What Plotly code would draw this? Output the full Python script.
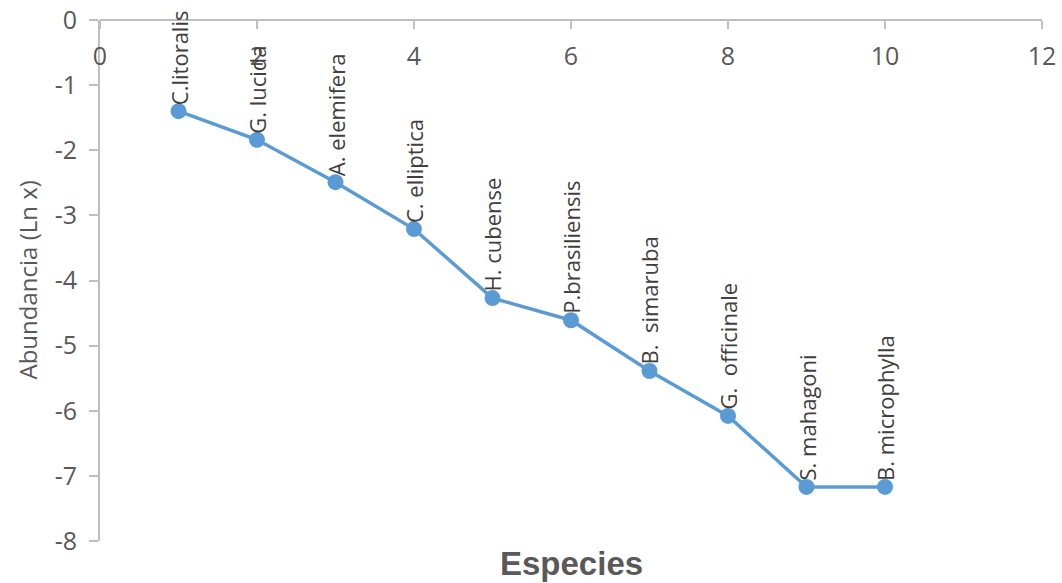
import plotly.graph_objects as go

# Species rank (x) and log abundance (y)
rank = [1, 2, 3, 4, 5, 6, 7, 8, 9, 10]
ln_abundance = [-1.40, -1.84, -2.49, -3.21, -4.27, -4.61, -5.39, -6.08, -7.17, -7.17]
species = ["C.litoralis", "G. lucida", "A. elemifera", "C. elliptica", "H. cubense",
           "P.brasiliensis", "B.  simaruba", "G.  officinale", "S. mahagoni", "B. microphylla"]

x_ticks = [0, 2, 4, 6, 8, 10, 12]
y_ticks = [0, -1, -2, -3, -4, -5, -6, -7, -8]

line_color = "#5B9BD5"
axis_color = "#BFBFBF"
tick_color = "#595959"

fig = go.Figure()
fig.add_trace(go.Scatter(
    x=rank, y=ln_abundance, mode="lines+markers",
    line=dict(color=line_color, width=3.5),
    marker=dict(color=line_color, size=16),
    showlegend=False, hoverinfo="skip",
))

# Vertical species labels above each point
for xv, yv, name in zip(rank, ln_abundance, species):
    fig.add_annotation(
        x=xv, y=yv, text=name, textangle=-90, showarrow=False,
        xanchor="center", yanchor="bottom", yshift=4,
        font=dict(family="Open Sans", size=22, color="#404040"),
    )

fig.add_annotation(
    text="<b>Especies</b>", x=0.5, y=0, xref="paper", yref="paper", yanchor="middle",
    yshift=-22, showarrow=False,
    font=dict(family="Liberation Sans", size=33, color=tick_color),
)
fig.add_annotation(
    text="Abundancia (Ln x)", textangle=-90, xref="paper", yref="paper",
    x=0, y=0.5, xanchor="center", yanchor="middle", xshift=-73,
    showarrow=False, font=dict(family="Open Sans", size=24, color=tick_color),
)

fig.update_layout(
    width=1062, height=583,
    margin=dict(l=100, r=20, t=20, b=42, autoexpand=False),
    paper_bgcolor="white", plot_bgcolor="white",
    font=dict(family="Open Sans", color=tick_color),
    xaxis=dict(
        range=[0, 12], tickvals=x_ticks, ticktext=[str(v) for v in x_ticks],
        anchor="free", position=1, side="bottom", automargin=False,
        showline=True, linecolor=axis_color, linewidth=2,
        ticks="outside", ticklen=8, tickcolor=axis_color, tickwidth=2,
        ticklabelstandoff=6,
        showgrid=False, zeroline=False,
        tickfont=dict(family="Open Sans", size=25, color=tick_color),
    ),
    yaxis=dict(
        range=[-8, 0], tickvals=y_ticks, ticktext=[str(v) for v in y_ticks],
        automargin=False,
        showline=True, linecolor=axis_color, linewidth=2,
        ticks="outside", ticklen=9, tickcolor=axis_color, tickwidth=2,
        ticklabelstandoff=7,
        showgrid=False, zeroline=False,
        tickfont=dict(family="Open Sans", size=25, color=tick_color),
    ),
)

fig.write_html("out.html")
